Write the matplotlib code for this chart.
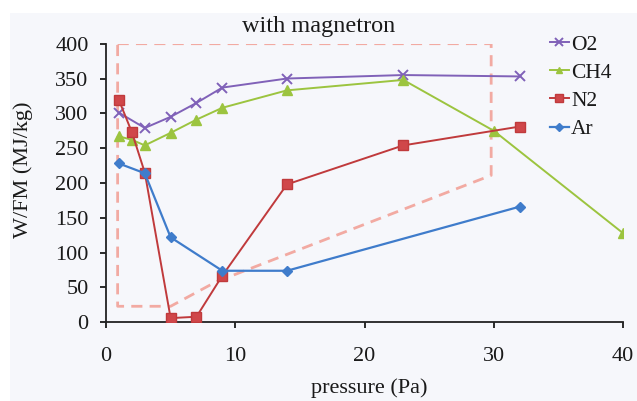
import matplotlib
matplotlib.use("Agg")
import matplotlib.pyplot as plt
from matplotlib.patches import Rectangle

# Data
o2_x = [1, 3, 5, 7, 9, 14, 23, 32]
o2_y = [301, 279, 295, 315, 337, 350, 355, 353]
ch4_x = [1, 2, 3, 5, 7, 9, 14, 23, 30, 40]
ch4_y = [267, 262, 254, 272, 291, 308, 333, 348, 275, 128]
n2_x = [1, 2, 3, 5, 7, 9, 14, 23, 32]
n2_y = [319, 273, 215, 6, 8, 67, 198, 254, 281]
ar_x = [1, 3, 5, 9, 14, 32]
ar_y = [228, 214, 122, 74, 74, 166]
box_x = [0.9, 29.8, 29.8, 8.5, 5.0, 0.9, 0.9]
box_y = [400, 400, 211, 58, 23, 23, 400]

xticks = [0, 10, 20, 30, 40]
yticks = [0, 50, 100, 150, 200, 250, 300, 350, 400]

plt.rcParams['font.family'] = ['Liberation Serif', 'DejaVu Serif']

fig = plt.figure(figsize=(6.37, 4.01), dpi=100, facecolor='white')
bg = '#f6f7fb'
fig.patches.append(Rectangle((10/637, 0), 1, 1 - 13/401, transform=fig.transFigure,
                             facecolor=bg, edgecolor='none', zorder=-10))
ax = fig.add_axes([106/637, 1 - 322.3/401, (623 - 106)/637, (322.3 - 43.7)/401])
ax.patch.set_alpha(0)

ax.plot(box_x, box_y, color='#f2aaa2', lw=2, dashes=(4, 2.6), zorder=1)

ax.plot(o2_x, o2_y, color='#8061b8', lw=1.4, marker='x', ms=7, mew=1.4, label='O2', zorder=3)
ax.plot(ch4_x, ch4_y, color='#9cc43f', lw=1.4, marker='^', ms=6.5, label='CH4', zorder=3)
ax.plot(n2_x, n2_y, color='#c03a3c', lw=1.4, marker='s', ms=7, mfc='#d0474a', mec='#c03a3c', label='N2', zorder=4)
ax.plot(ar_x, ar_y, color='#3f7ccb', lw=1.6, marker='D', ms=5, label='Ar', zorder=5)

ax.set_xlim(0, 40)
ax.set_ylim(0, 400)
ax.set_xticks(xticks)
ax.set_yticks(yticks)
ax.spines['top'].set_visible(False)
ax.spines['right'].set_visible(False)
for s in ('left', 'bottom'):
    ax.spines[s].set_linewidth(1.3)
    ax.spines[s].set_color('#222222')
ax.tick_params(axis='both', direction='out', length=4.5, width=1.3, labelsize=16, colors='#1a1a1a')
ax.tick_params(axis='x', pad=13.5)
ax.tick_params(axis='y', pad=8)

fig.text(369/637, 1 - 393/401, 'pressure (Pa)', fontsize=16,
         ha='center', va='baseline', color='#1a1a1a')
fig.text(23/637, 1 - 170/401, 'W/FM (MJ/kg)', fontsize=16, rotation=90,
         ha='center', va='center', color='#1a1a1a')
fig.text(319/637, 1 - 32/401, 'with magnetron', fontsize=17.5,
         ha='center', va='baseline', color='#1a1a1a')

leg = ax.legend(loc='upper left', bbox_to_anchor=(541/637, 1 - 26/401),
                bbox_transform=fig.transFigure, frameon=False, fontsize=15.5,
                handlelength=0.9, handletextpad=0.1, labelspacing=0.375,
                borderaxespad=0, markerscale=0.75)
for t in leg.get_texts():
    t.set_color('#1a1a1a')

fig.savefig('out.png', dpi=100, facecolor='white')
